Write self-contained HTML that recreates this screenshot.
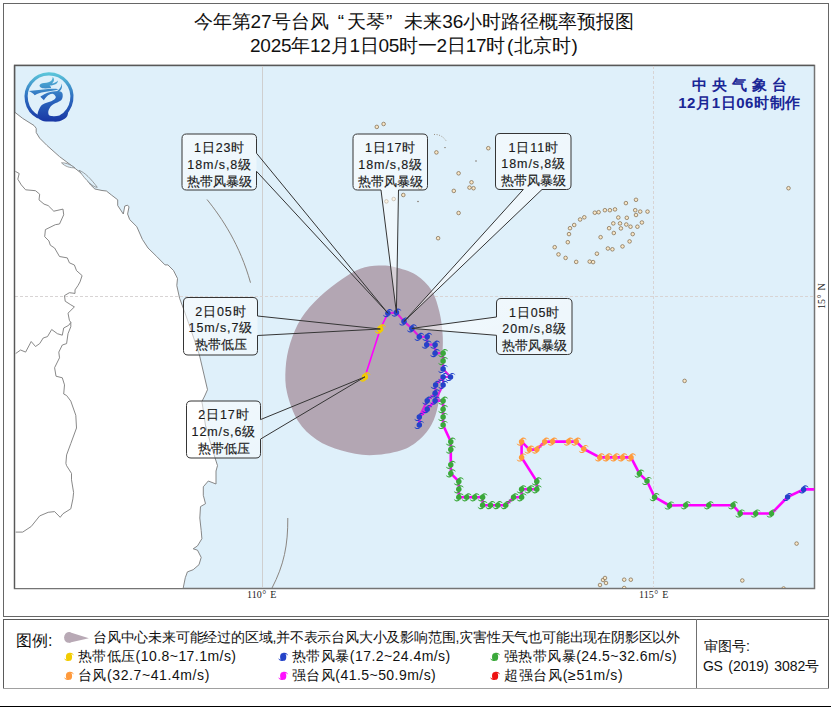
<!DOCTYPE html><html><head><meta charset="utf-8"><style>
html,body{margin:0;padding:0;background:#fff;width:831px;height:707px;overflow:hidden;position:relative}
text{font-family:"Liberation Sans",sans-serif}
.lb{font-size:12.5px;fill:#1a1a1a;stroke:#1a1a1a;stroke-width:0.15px}
.gl{font-family:"Liberation Serif",serif;font-size:10px;fill:#222}
.cma{font-size:15px;font-weight:bold;fill:#1a2696}
.t1{font-size:19px;fill:#111}
.lg1{font-size:16px;fill:#111}
.lg{font-size:14px;fill:#111}
</style></head><body><svg width="831" height="707" viewBox="0 0 831 707" style="position:absolute;left:0;top:0">
<defs>
<symbol id="ty" overflow="visible"><circle r="2.75"/><path d="M-1.2,-2.5 C0.8,-4.9 4.2,-4.7 5,-1.4 C3.8,-2.9 1.8,-3.4 0.6,-2.4 Z"/><path d="M1.2,2.5 C-0.8,4.9 -4.2,4.7 -5,1.4 C-3.8,2.9 -1.8,3.4 -0.6,2.4 Z"/></symbol>
<linearGradient id="lg" gradientUnits="userSpaceOnUse" x1="0" y1="73" x2="0" y2="122"><stop offset="0" stop-color="#5cc6da"/><stop offset="0.5" stop-color="#2d6cc0"/><stop offset="1" stop-color="#1836a4"/></linearGradient>
<linearGradient id="bx" x1="0" y1="0" x2="1" y2="1"><stop offset="0" stop-color="#ffffff" stop-opacity="0.6"/><stop offset="1" stop-color="#ffffff" stop-opacity="0.4"/></linearGradient>
<clipPath id="mc"><rect x="15" y="66" width="799" height="522"/></clipPath>
<symbol id="tyl" overflow="visible"><ellipse rx="3.1" ry="3.9"/><path d="M-0.5,-3.8 C2,-4.8 4.3,-3.6 5,-1.2 C4,-2.5 2.6,-3 1.2,-2.9 Z"/><path d="M0.5,3.8 C-2,4.8 -4.3,3.6 -5,1.2 C-4,2.5 -2.6,3 -1.2,2.9 Z"/></symbol>
</defs>
<rect x="3.5" y="3.5" width="825" height="613" fill="#fff" stroke="#666666" stroke-width="1"/>
<rect x="14.5" y="65.5" width="800" height="523" fill="#dff0fa" stroke="#747474" stroke-width="1.5"/>
<g clip-path="url(#mc)">
<polygon points="15.0,112.4 22.7,118.4 34.0,125.5 36.2,128.3 36.2,132.5 39.7,138.2 46.8,145.3 59.5,156.6 70.8,165.0 83.5,175.0 90.6,184.9 94.9,189.0 102.0,190.5 106.4,191.0 111.3,194.9 117.7,199.8 117.7,205.5 123.3,214.0 124.8,206.0 127.6,205.2 129.0,206.9 127.6,214.0 129.7,219.6 136.8,226.7 142.4,239.4 148.0,248.0 156.6,256.4 165.0,264.9 167.9,264.9 173.5,270.5 177.5,278.5 176.8,285.6 179.6,298.3 183.8,309.6 188.8,323.7 193.7,337.9 199.4,354.9 207.5,389.7 204.7,396.0 201.8,401.7 202.5,405.0 205.4,425.0 211.0,444.9 215.4,459.0 217.5,465.6 216.0,471.0 216.0,484.0 208.3,481.0 203.3,486.8 203.3,495.3 205.5,503.7 200.5,506.6 199.8,518.0 201.2,530.6 201.9,538.7 197.5,545.9 193.2,548.8 197.5,550.2 201.2,557.4 199.0,564.7 193.2,569.7 187.4,571.9 185.3,577.7 183.1,588.5 15,588.5" fill="#ffffff" stroke="none"/>
<polyline points="15.0,112.4 22.7,118.4 34.0,125.5 36.2,128.3 36.2,132.5 39.7,138.2 46.8,145.3 59.5,156.6 70.8,165.0 83.5,175.0 90.6,184.9 94.9,189.0 102.0,190.5 106.4,191.0 111.3,194.9 117.7,199.8 117.7,205.5 123.3,214.0 124.8,206.0 127.6,205.2 129.0,206.9 127.6,214.0 129.7,219.6 136.8,226.7 142.4,239.4 148.0,248.0 156.6,256.4 165.0,264.9 167.9,264.9 173.5,270.5 177.5,278.5 176.8,285.6 179.6,298.3 183.8,309.6 188.8,323.7 193.7,337.9 199.4,354.9 207.5,389.7 204.7,396.0 201.8,401.7 202.5,405.0 205.4,425.0 211.0,444.9 215.4,459.0 217.5,465.6 216.0,471.0 216.0,484.0 208.3,481.0 203.3,486.8 203.3,495.3 205.5,503.7 200.5,506.6 199.8,518.0 201.2,530.6 201.9,538.7 197.5,545.9 193.2,548.8 197.5,550.2 201.2,557.4 199.0,564.7 193.2,569.7 187.4,571.9 185.3,577.7 183.1,588.5" fill="none" stroke="#7a7a7a" stroke-width="0.9"/>
<polyline points="15.4,171.4 19.2,173.5 17.8,179.2 21.3,184.9 25.6,189.8 35.5,190.7 39.7,194.2 39.0,199.9 44.0,204.1 48.2,205.6 53.8,211.2 63.0,209.1 63.7,214.8 59.5,224.0 55.3,224.7 45.4,229.6 44.7,236.7 48.9,240.9 50.3,245.2 54.6,248.0 59.5,256.5 67.3,257.9 69.4,262.8 74.4,265.0 76.5,270.6 82.1,275.6 80.0,281.9 77.9,285.7 75.0,289.9 75.0,293.4 69.4,292.7 64.5,295.6 65.2,301.2 70.8,304.8 74.4,306.9 68.0,313.2 69.4,320.3 70.8,322.4 70.8,326.7 68.0,333.7 66.6,343.6 62.3,345.0 58.8,352.1 59.5,357.8 54.6,367.7 56.0,376.2 62.3,377.8 64.5,384.9 63.7,394.0 66.6,395.5 70.8,401.1 75.8,415.3 76.5,428.0 70.8,443.5 66.6,454.9 65.9,463.4 66.6,465.7 71.5,473.4 71.5,479.8 73.6,492.5 72.9,498.9 70.8,508.8 63.0,513.7 60.2,517.3 54.6,511.6 48.2,512.3 39.7,515.9 31.2,526.5 22.7,532.1 15.7,532.1" fill="none" stroke="#7a7a7a" stroke-width="0.9"/>
<polyline points="70.8,322.4 68.7,325.3 63.7,328.0 62.3,335.2 57.4,333.7 51.7,329.5 47.5,336.6 43.2,338.0 39.7,343.6 35.5,346.5 31.2,341.5 25.6,352.1 20.6,350.0 15.7,353.5" fill="none" stroke="#7a7a7a" stroke-width="0.9"/>
<path d="M61.5,162.8 C65,162.5 71,164.5 74.8,167.8 C70,168 65,166.5 61.5,162.8Z" fill="#dff0fa" stroke="#7a7a7a" stroke-width="0.7"/>
<path d="M79,170.3 C85,172.5 91,179 97.3,187.3 C94,187.8 86,181 79,170.3Z" fill="#dff0fa" stroke="#7a7a7a" stroke-width="0.7"/>
<line x1="262.5" y1="66" x2="262.5" y2="588" stroke="#cfcfcf" stroke-width="1"/>
<line x1="653.5" y1="66" x2="653.5" y2="588" stroke="#d8d4d4" stroke-width="1" stroke-dasharray="3,2"/>
<line x1="15" y1="296.5" x2="814" y2="296.5" stroke="#d8d4d4" stroke-width="1" stroke-dasharray="3,2"/>
<path d="M207,199.5 C222,218 240,245 250.5,282.7" fill="none" stroke="#8a8580" stroke-width="1"/>
<path d="M287.8,518 C288,545 284,565 272,588" fill="none" stroke="#8a8580" stroke-width="1"/>
<circle cx="376.8" cy="126.9" r="1.8" fill="#f8e6c6" stroke="#7a6448" stroke-width="0.7"/>
<circle cx="383.6" cy="124.0" r="1.8" fill="#f8e6c6" stroke="#7a6448" stroke-width="0.7"/>
<circle cx="436.4" cy="152.4" r="1.8" fill="#f8e6c6" stroke="#7a6448" stroke-width="0.7"/>
<circle cx="453.8" cy="190.9" r="1.8" fill="#f8e6c6" stroke="#7a6448" stroke-width="0.7"/>
<circle cx="403.3" cy="195.0" r="1.8" fill="#f8e6c6" stroke="#7a6448" stroke-width="0.7"/>
<circle cx="393.7" cy="199.0" r="1.8" fill="#f8e6c6" stroke="#7a6448" stroke-width="0.7"/>
<circle cx="386.4" cy="201.4" r="1.8" fill="#f8e6c6" stroke="#7a6448" stroke-width="0.7"/>
<circle cx="438.1" cy="238.2" r="1.8" fill="#f8e6c6" stroke="#7a6448" stroke-width="0.7"/>
<circle cx="420.0" cy="187.7" r="1.8" fill="#f8e6c6" stroke="#7a6448" stroke-width="0.7"/>
<circle cx="458.6" cy="213.0" r="1.8" fill="#f8e6c6" stroke="#7a6448" stroke-width="0.7"/>
<circle cx="458.6" cy="173.3" r="1.8" fill="#f8e6c6" stroke="#7a6448" stroke-width="0.7"/>
<circle cx="488.3" cy="148.2" r="1.8" fill="#f8e6c6" stroke="#7a6448" stroke-width="0.7"/>
<circle cx="471.5" cy="182.3" r="1.8" fill="#f8e6c6" stroke="#7a6448" stroke-width="0.7"/>
<circle cx="469.5" cy="187.6" r="1.8" fill="#f8e6c6" stroke="#7a6448" stroke-width="0.7"/>
<circle cx="473.5" cy="188.2" r="1.8" fill="#f8e6c6" stroke="#7a6448" stroke-width="0.7"/>
<circle cx="554.7" cy="247.2" r="1.8" fill="#f8e6c6" stroke="#7a6448" stroke-width="0.7"/>
<circle cx="636.0" cy="199.8" r="1.8" fill="#f8e6c6" stroke="#7a6448" stroke-width="0.7"/>
<circle cx="625.9" cy="203.1" r="1.8" fill="#f8e6c6" stroke="#7a6448" stroke-width="0.7"/>
<circle cx="635.2" cy="210.2" r="1.8" fill="#f8e6c6" stroke="#7a6448" stroke-width="0.7"/>
<circle cx="640.2" cy="211.6" r="1.8" fill="#f8e6c6" stroke="#7a6448" stroke-width="0.7"/>
<circle cx="647.5" cy="211.6" r="1.8" fill="#f8e6c6" stroke="#7a6448" stroke-width="0.7"/>
<circle cx="636.0" cy="215.0" r="1.8" fill="#f8e6c6" stroke="#7a6448" stroke-width="0.7"/>
<circle cx="615.0" cy="209.4" r="1.8" fill="#f8e6c6" stroke="#7a6448" stroke-width="0.7"/>
<circle cx="609.9" cy="210.2" r="1.8" fill="#f8e6c6" stroke="#7a6448" stroke-width="0.7"/>
<circle cx="604.9" cy="210.2" r="1.8" fill="#f8e6c6" stroke="#7a6448" stroke-width="0.7"/>
<circle cx="598.6" cy="212.2" r="1.8" fill="#f8e6c6" stroke="#7a6448" stroke-width="0.7"/>
<circle cx="594.8" cy="212.7" r="1.8" fill="#f8e6c6" stroke="#7a6448" stroke-width="0.7"/>
<circle cx="584.3" cy="217.3" r="1.8" fill="#f8e6c6" stroke="#7a6448" stroke-width="0.7"/>
<circle cx="580.1" cy="219.5" r="1.8" fill="#f8e6c6" stroke="#7a6448" stroke-width="0.7"/>
<circle cx="574.2" cy="225.0" r="1.8" fill="#f8e6c6" stroke="#7a6448" stroke-width="0.7"/>
<circle cx="570.0" cy="228.2" r="1.8" fill="#f8e6c6" stroke="#7a6448" stroke-width="0.7"/>
<circle cx="569.0" cy="234.1" r="1.8" fill="#f8e6c6" stroke="#7a6448" stroke-width="0.7"/>
<circle cx="567.8" cy="242.2" r="1.8" fill="#f8e6c6" stroke="#7a6448" stroke-width="0.7"/>
<circle cx="558.5" cy="254.4" r="1.8" fill="#f8e6c6" stroke="#7a6448" stroke-width="0.7"/>
<circle cx="565.6" cy="257.9" r="1.8" fill="#f8e6c6" stroke="#7a6448" stroke-width="0.7"/>
<circle cx="576.2" cy="261.9" r="1.8" fill="#f8e6c6" stroke="#7a6448" stroke-width="0.7"/>
<circle cx="589.7" cy="261.6" r="1.8" fill="#f8e6c6" stroke="#7a6448" stroke-width="0.7"/>
<circle cx="593.1" cy="262.1" r="1.8" fill="#f8e6c6" stroke="#7a6448" stroke-width="0.7"/>
<circle cx="596.9" cy="253.7" r="1.8" fill="#f8e6c6" stroke="#7a6448" stroke-width="0.7"/>
<circle cx="600.6" cy="237.2" r="1.8" fill="#f8e6c6" stroke="#7a6448" stroke-width="0.7"/>
<circle cx="607.9" cy="248.5" r="1.8" fill="#f8e6c6" stroke="#7a6448" stroke-width="0.7"/>
<circle cx="612.4" cy="249.3" r="1.8" fill="#f8e6c6" stroke="#7a6448" stroke-width="0.7"/>
<circle cx="622.5" cy="246.4" r="1.8" fill="#f8e6c6" stroke="#7a6448" stroke-width="0.7"/>
<circle cx="629.6" cy="241.4" r="1.8" fill="#f8e6c6" stroke="#7a6448" stroke-width="0.7"/>
<circle cx="632.7" cy="234.1" r="1.8" fill="#f8e6c6" stroke="#7a6448" stroke-width="0.7"/>
<circle cx="637.4" cy="226.7" r="1.8" fill="#f8e6c6" stroke="#7a6448" stroke-width="0.7"/>
<circle cx="641.9" cy="222.5" r="1.8" fill="#f8e6c6" stroke="#7a6448" stroke-width="0.7"/>
<circle cx="618.3" cy="217.5" r="1.8" fill="#f8e6c6" stroke="#7a6448" stroke-width="0.7"/>
<circle cx="626.8" cy="217.8" r="1.8" fill="#f8e6c6" stroke="#7a6448" stroke-width="0.7"/>
<circle cx="613.3" cy="223.4" r="1.8" fill="#f8e6c6" stroke="#7a6448" stroke-width="0.7"/>
<circle cx="620.0" cy="223.4" r="1.8" fill="#f8e6c6" stroke="#7a6448" stroke-width="0.7"/>
<circle cx="626.3" cy="224.5" r="1.8" fill="#f8e6c6" stroke="#7a6448" stroke-width="0.7"/>
<circle cx="630.5" cy="226.7" r="1.8" fill="#f8e6c6" stroke="#7a6448" stroke-width="0.7"/>
<circle cx="609.1" cy="228.2" r="1.8" fill="#f8e6c6" stroke="#7a6448" stroke-width="0.7"/>
<circle cx="620.9" cy="228.4" r="1.8" fill="#f8e6c6" stroke="#7a6448" stroke-width="0.7"/>
<circle cx="613.8" cy="233.0" r="1.8" fill="#f8e6c6" stroke="#7a6448" stroke-width="0.7"/>
<circle cx="788.5" cy="188.2" r="1.8" fill="#f8e6c6" stroke="#7a6448" stroke-width="0.7"/>
<circle cx="684.6" cy="380.9" r="1.8" fill="#f8e6c6" stroke="#7a6448" stroke-width="0.7"/>
<circle cx="796.6" cy="543.6" r="1.8" fill="#f8e6c6" stroke="#7a6448" stroke-width="0.7"/>
<circle cx="742.3" cy="580.5" r="1.8" fill="#f8e6c6" stroke="#7a6448" stroke-width="0.7"/>
<circle cx="624.2" cy="579.7" r="1.8" fill="#f8e6c6" stroke="#7a6448" stroke-width="0.7"/>
<circle cx="630.8" cy="579.7" r="1.8" fill="#f8e6c6" stroke="#7a6448" stroke-width="0.7"/>
<circle cx="603.0" cy="580.0" r="1.8" fill="#f8e6c6" stroke="#7a6448" stroke-width="0.7"/>
<circle cx="606.0" cy="583.0" r="1.8" fill="#f8e6c6" stroke="#7a6448" stroke-width="0.7"/>
<circle cx="600.0" cy="585.0" r="1.8" fill="#f8e6c6" stroke="#7a6448" stroke-width="0.7"/>
<circle cx="605.0" cy="578.0" r="1.8" fill="#f8e6c6" stroke="#7a6448" stroke-width="0.7"/>
<circle cx="624.2" cy="588.0" r="1.8" fill="#f8e6c6" stroke="#7a6448" stroke-width="0.7"/>
<circle cx="783.6" cy="588.5" r="1.8" fill="#f8e6c6" stroke="#7a6448" stroke-width="0.7"/>
<path d="M434,134.5 C439,134 444,137 446.5,141.5" fill="none" stroke="#8a7a66" stroke-width="0.8" stroke-dasharray="1,1.6"/>
<circle cx="445" cy="147.6" r="0.7" fill="#6a5a4a"/>
<circle cx="476" cy="161" r="0.7" fill="#6a5a4a"/>
<circle cx="418" cy="201.5" r="0.7" fill="#6a5a4a"/>
<path d="M378.9,265.6 C384.6,265.3 388.2,265.6 394.4,267.1 C400.6,268.7 410.0,271.0 416.2,274.9 C422.4,278.8 427.8,284.2 431.7,290.4 C435.6,296.6 437.7,304.9 439.5,312.2 C441.3,319.5 442.1,327.3 442.6,334.0 C443.1,340.7 442.9,344.8 442.6,352.6 C442.3,360.4 441.8,371.8 441.0,380.6 C440.2,389.4 439.6,398.2 438.0,405.5 C436.4,412.8 434.8,418.5 431.7,424.2 C428.6,429.9 424.5,435.3 419.3,439.7 C414.1,444.1 408.9,448.0 400.6,450.6 C392.3,453.2 379.4,455.3 369.5,455.3 C359.6,455.3 350.3,453.2 341.5,450.6 C332.7,448.0 323.9,444.6 316.7,439.7 C309.4,434.8 302.9,428.8 298.0,421.0 C293.1,413.2 289.2,401.8 287.1,393.0 C285.0,384.2 285.1,376.5 285.6,368.2 C286.1,359.9 287.6,351.6 290.2,343.3 C292.8,335.0 296.2,326.2 301.1,318.4 C306.0,310.6 313.1,303.2 319.8,296.7 C326.5,290.2 334.8,284.2 341.5,279.5 C348.2,274.8 354.0,271.0 360.2,268.7 C366.4,266.4 373.2,265.9 378.9,265.6Z" fill="#b3a6b3"/>
</g>
<path d="M14.6,588.5 L14.6,65.4 L814.5,65.4" fill="none" stroke="#585858" stroke-width="1.25"/>
<polyline points="814.3,489.4 803.6,489.4 787.6,497.0 771.5,513.5 755.7,513.5 740.2,513.5 733.0,505.3 708.8,505.3 685.7,505.3 669.5,505.5 654.6,497.2 647.0,481.0 639.4,473.6 631.0,457.4 622.5,457.4 615.0,457.4 607.4,457.4 599.8,457.4 583.8,449.0 576.2,441.6 568.6,441.6 552.6,441.6 544.7,441.7 536.8,449.6 529.5,449.6 521.6,441.7 521.6,457.5 536.8,481.4 536.8,489.3 529.5,489.3 521.6,489.3 521.6,497.3 513.6,497.3 505.7,505.2 497.8,505.2 490.5,505.2 482.6,505.2 482.6,497.3 474.7,497.3 466.7,497.3 458.8,497.3 458.8,489.3 458.8,481.4 450.8,473.4 450.8,464.8 450.8,449.6 450.8,441.7 443.1,425.0 443.1,417.0 443.1,409.2 443.1,400.7 435.1,400.7 427.2,409.2 419.3,417.0 419.3,425.0" fill="none" stroke="#ff00ff" stroke-width="2.6" stroke-linejoin="round"/>
<polyline points="419.3,425.0 419.3,417.0 427.2,400.7 435.1,393.3 435.6,384.9 443.1,377.0 450.5,377.0 443.1,369.0 443.1,361.1 443.1,353.2 435.1,353.2 435.1,344.7 426.7,344.7 427.2,336.8 419.3,336.8 411.9,328.4 404.0,321.5 396.4,312.6 387.9,313.2" fill="none" stroke="#e020e0" stroke-width="2.2" stroke-linejoin="round"/>
<polyline points="443.1,400.7 435.1,400.7 443.1,384.9 443.1,377.0" fill="none" stroke="#e020e0" stroke-width="2.2" stroke-linejoin="round"/>
<polyline points="387.9,313.2 380.3,329.0 364.9,376.9" fill="none" stroke="#ff00ff" stroke-width="1.6"/>
<use href="#ty" x="0" y="0" transform="translate(803.6,489.4) scale(1.0)" fill="#2443c8"/>
<use href="#ty" x="0" y="0" transform="translate(787.6,497.0) scale(1.0)" fill="#2443c8"/>
<use href="#ty" x="0" y="0" transform="translate(771.5,513.5) scale(1.0)" fill="#3aa83a"/>
<use href="#ty" x="0" y="0" transform="translate(755.7,513.5) scale(1.0)" fill="#3aa83a"/>
<use href="#ty" x="0" y="0" transform="translate(740.2,513.5) scale(1.0)" fill="#3aa83a"/>
<use href="#ty" x="0" y="0" transform="translate(733.0,505.3) scale(1.0)" fill="#3aa83a"/>
<use href="#ty" x="0" y="0" transform="translate(708.8,505.3) scale(1.0)" fill="#3aa83a"/>
<use href="#ty" x="0" y="0" transform="translate(685.7,505.3) scale(1.0)" fill="#3aa83a"/>
<use href="#ty" x="0" y="0" transform="translate(669.5,505.5) scale(1.0)" fill="#3aa83a"/>
<use href="#ty" x="0" y="0" transform="translate(654.6,497.2) scale(1.0)" fill="#3aa83a"/>
<use href="#ty" x="0" y="0" transform="translate(647.0,481.0) scale(1.0)" fill="#3aa83a"/>
<use href="#ty" x="0" y="0" transform="translate(639.4,473.6) scale(1.0)" fill="#3aa83a"/>
<use href="#ty" x="0" y="0" transform="translate(631.0,457.4) scale(1.0)" fill="#ff9a3c"/>
<use href="#ty" x="0" y="0" transform="translate(622.5,457.4) scale(1.0)" fill="#ff9a3c"/>
<use href="#ty" x="0" y="0" transform="translate(615.0,457.4) scale(1.0)" fill="#ff9a3c"/>
<use href="#ty" x="0" y="0" transform="translate(607.4,457.4) scale(1.0)" fill="#ff9a3c"/>
<use href="#ty" x="0" y="0" transform="translate(599.8,457.4) scale(1.0)" fill="#ff9a3c"/>
<use href="#ty" x="0" y="0" transform="translate(583.8,449.0) scale(1.0)" fill="#ff9a3c"/>
<use href="#ty" x="0" y="0" transform="translate(576.2,441.6) scale(1.0)" fill="#ff9a3c"/>
<use href="#ty" x="0" y="0" transform="translate(568.6,441.6) scale(1.0)" fill="#ff9a3c"/>
<use href="#ty" x="0" y="0" transform="translate(552.6,441.6) scale(1.0)" fill="#ff9a3c"/>
<use href="#ty" x="0" y="0" transform="translate(544.7,441.7) scale(1.0)" fill="#ff9a3c"/>
<use href="#ty" x="0" y="0" transform="translate(536.8,449.6) scale(1.0)" fill="#ff9a3c"/>
<use href="#ty" x="0" y="0" transform="translate(529.5,449.6) scale(1.0)" fill="#ff9a3c"/>
<use href="#ty" x="0" y="0" transform="translate(521.6,441.7) scale(1.0)" fill="#ff9a3c"/>
<use href="#ty" x="0" y="0" transform="translate(521.6,457.5) scale(1.0)" fill="#ff9a3c"/>
<use href="#ty" x="0" y="0" transform="translate(536.8,481.4) scale(1.0)" fill="#3aa83a"/>
<use href="#ty" x="0" y="0" transform="translate(536.8,489.3) scale(1.0)" fill="#3aa83a"/>
<use href="#ty" x="0" y="0" transform="translate(529.5,489.3) scale(1.0)" fill="#3aa83a"/>
<use href="#ty" x="0" y="0" transform="translate(521.6,489.3) scale(1.0)" fill="#3aa83a"/>
<use href="#ty" x="0" y="0" transform="translate(521.6,497.3) scale(1.0)" fill="#3aa83a"/>
<use href="#ty" x="0" y="0" transform="translate(513.6,497.3) scale(1.0)" fill="#3aa83a"/>
<use href="#ty" x="0" y="0" transform="translate(505.7,505.2) scale(1.0)" fill="#3aa83a"/>
<use href="#ty" x="0" y="0" transform="translate(497.8,505.2) scale(1.0)" fill="#3aa83a"/>
<use href="#ty" x="0" y="0" transform="translate(490.5,505.2) scale(1.0)" fill="#3aa83a"/>
<use href="#ty" x="0" y="0" transform="translate(482.6,505.2) scale(1.0)" fill="#3aa83a"/>
<use href="#ty" x="0" y="0" transform="translate(482.6,497.3) scale(1.0)" fill="#3aa83a"/>
<use href="#ty" x="0" y="0" transform="translate(474.7,497.3) scale(1.0)" fill="#3aa83a"/>
<use href="#ty" x="0" y="0" transform="translate(466.7,497.3) scale(1.0)" fill="#3aa83a"/>
<use href="#ty" x="0" y="0" transform="translate(458.8,497.3) scale(1.0)" fill="#3aa83a"/>
<use href="#ty" x="0" y="0" transform="translate(458.8,489.3) scale(1.0)" fill="#3aa83a"/>
<use href="#ty" x="0" y="0" transform="translate(458.8,481.4) scale(1.0)" fill="#3aa83a"/>
<use href="#ty" x="0" y="0" transform="translate(450.8,473.4) scale(1.0)" fill="#3aa83a"/>
<use href="#ty" x="0" y="0" transform="translate(450.8,464.8) scale(1.0)" fill="#3aa83a"/>
<use href="#ty" x="0" y="0" transform="translate(450.8,449.6) scale(1.0)" fill="#3aa83a"/>
<use href="#ty" x="0" y="0" transform="translate(450.8,441.7) scale(1.0)" fill="#3aa83a"/>
<use href="#ty" x="0" y="0" transform="translate(443.1,425.0) scale(1.0)" fill="#3aa83a"/>
<use href="#ty" x="0" y="0" transform="translate(443.1,417.0) scale(1.0)" fill="#3aa83a"/>
<use href="#ty" x="0" y="0" transform="translate(443.1,409.2) scale(1.0)" fill="#3aa83a"/>
<use href="#ty" x="0" y="0" transform="translate(443.1,400.7) scale(1.0)" fill="#3aa83a"/>
<use href="#ty" x="0" y="0" transform="translate(435.1,400.7) scale(1.0)" fill="#2443c8"/>
<use href="#ty" x="0" y="0" transform="translate(427.2,409.2) scale(1.0)" fill="#2443c8"/>
<use href="#ty" x="0" y="0" transform="translate(419.3,417.0) scale(1.0)" fill="#2443c8"/>
<use href="#ty" x="0" y="0" transform="translate(419.3,425.0) scale(1.0)" fill="#2443c8"/>
<use href="#ty" x="0" y="0" transform="translate(427.2,400.7) scale(1.0)" fill="#2443c8"/>
<use href="#ty" x="0" y="0" transform="translate(435.1,393.3) scale(1.0)" fill="#2443c8"/>
<use href="#ty" x="0" y="0" transform="translate(435.6,384.9) scale(1.0)" fill="#2443c8"/>
<use href="#ty" x="0" y="0" transform="translate(443.1,377.0) scale(1.0)" fill="#2443c8"/>
<use href="#ty" x="0" y="0" transform="translate(450.5,377.0) scale(1.0)" fill="#2443c8"/>
<use href="#ty" x="0" y="0" transform="translate(443.1,369.0) scale(1.0)" fill="#2443c8"/>
<use href="#ty" x="0" y="0" transform="translate(443.1,361.1) scale(1.0)" fill="#3aa83a"/>
<use href="#ty" x="0" y="0" transform="translate(443.1,353.2) scale(1.0)" fill="#3aa83a"/>
<use href="#ty" x="0" y="0" transform="translate(435.1,353.2) scale(1.0)" fill="#2443c8"/>
<use href="#ty" x="0" y="0" transform="translate(435.1,344.7) scale(1.0)" fill="#2443c8"/>
<use href="#ty" x="0" y="0" transform="translate(426.7,344.7) scale(1.0)" fill="#2443c8"/>
<use href="#ty" x="0" y="0" transform="translate(427.2,336.8) scale(1.0)" fill="#2443c8"/>
<use href="#ty" x="0" y="0" transform="translate(419.3,336.8) scale(1.0)" fill="#2443c8"/>
<use href="#ty" x="0" y="0" transform="translate(411.9,328.4) scale(1.0)" fill="#2443c8"/>
<use href="#ty" x="0" y="0" transform="translate(404.0,321.5) scale(1.0)" fill="#2443c8"/>
<use href="#ty" x="0" y="0" transform="translate(396.4,312.6) scale(1.0)" fill="#2443c8"/>
<use href="#ty" x="0" y="0" transform="translate(387.9,313.2) scale(1.0)" fill="#2443c8"/>
<use href="#ty" x="0" y="0" transform="translate(443.1,384.9) scale(1.0)" fill="#2443c8"/>
<use href="#ty" x="0" y="0" transform="translate(380.3,329.0) scale(1.15)" fill="#f2cc00"/>
<use href="#ty" x="0" y="0" transform="translate(364.9,376.9) scale(1.15)" fill="#f2cc00"/>
<rect x="182" y="134" width="74.5" height="56" rx="4.5" fill="url(#bx)"/>
<path d="M186.5,134 L252.0,134 Q256.5,134 256.5,138.5 L256.5,153.2 L387.9,313.2 L256.5,171.3 L256.5,185.5 Q256.5,190 252.0,190 L186.5,190 Q182,190 182,185.5 L182,138.5 Q182,134 186.5,134 Z" fill="none" stroke="#353535" stroke-width="1" stroke-linejoin="miter"/>
<text x="219.7" y="152.0" class="lb" text-anchor="middle" letter-spacing="0.9">1日23时</text>
<text x="219.7" y="168.8" class="lb" text-anchor="middle" letter-spacing="0.9">18m/s,8级</text>
<text x="219.2" y="185.5" class="lb" text-anchor="middle">热带风暴级</text>
<path d="M357.5,134 L423.0,134 Q427.5,134 427.5,138.5 L427.5,185.5 Q427.5,190 423.0,190 L398.5,190 L396.4,312.6 L381,190 L357.5,190 Q353,190 353,185.5 L353,138.5 Q353,134 357.5,134 Z" fill="url(#bx)" stroke="#353535" stroke-width="1" stroke-linejoin="miter"/>
<text x="390.7" y="152.0" class="lb" text-anchor="middle" letter-spacing="0.9">1日17时</text>
<text x="390.7" y="168.8" class="lb" text-anchor="middle" letter-spacing="0.9">18m/s,8级</text>
<text x="390.2" y="185.5" class="lb" text-anchor="middle">热带风暴级</text>
<path d="M500.0,133.5 L566.5,133.5 Q571,133.5 571,138.0 L571,185.0 Q571,189.5 566.5,189.5 L542,189.5 L404,321.5 L523.3,189.5 L500.0,189.5 Q495.5,189.5 495.5,185.0 L495.5,138.0 Q495.5,133.5 500.0,133.5 Z" fill="url(#bx)" stroke="#353535" stroke-width="1" stroke-linejoin="miter"/>
<text x="533.7" y="151.5" class="lb" text-anchor="middle" letter-spacing="0.9">1日11时</text>
<text x="533.7" y="168.2" class="lb" text-anchor="middle" letter-spacing="0.9">18m/s,8级</text>
<text x="533.2" y="185.0" class="lb" text-anchor="middle">热带风暴级</text>
<path d="M501.0,298.5 L567.5,298.5 Q572,298.5 572,303.0 L572,350.0 Q572,354.5 567.5,354.5 L501.0,354.5 Q496.5,354.5 496.5,350.0 L496.5,335.3 L411.9,328.4 L496.5,317 L496.5,303.0 Q496.5,298.5 501.0,298.5 Z" fill="url(#bx)" stroke="#353535" stroke-width="1" stroke-linejoin="miter"/>
<text x="534.7" y="316.5" class="lb" text-anchor="middle" letter-spacing="0.9">1日05时</text>
<text x="534.7" y="333.2" class="lb" text-anchor="middle" letter-spacing="0.9">20m/s,8级</text>
<text x="534.2" y="350.0" class="lb" text-anchor="middle">热带风暴级</text>
<rect x="183.5" y="297.5" width="74.0" height="57.5" rx="4.5" fill="url(#bx)"/>
<path d="M188.0,297.5 L253.0,297.5 Q257.5,297.5 257.5,302.0 L257.5,316 L380.3,329 L257.5,335.5 L257.5,350.5 Q257.5,355 253.0,355 L188.0,355 Q183.5,355 183.5,350.5 L183.5,302.0 Q183.5,297.5 188.0,297.5 Z" fill="none" stroke="#353535" stroke-width="1" stroke-linejoin="miter"/>
<text x="220.9" y="315.5" class="lb" text-anchor="middle" letter-spacing="0.9">2日05时</text>
<text x="220.9" y="332.2" class="lb" text-anchor="middle" letter-spacing="0.9">15m/s,7级</text>
<text x="220.5" y="349.0" class="lb" text-anchor="middle">热带低压</text>
<rect x="186.5" y="401" width="74.0" height="57" rx="4.5" fill="url(#bx)"/>
<path d="M191.0,401 L256.0,401 Q260.5,401 260.5,405.5 L260.5,419.6 L364.9,376.9 L260.5,439.1 L260.5,453.5 Q260.5,458 256.0,458 L191.0,458 Q186.5,458 186.5,453.5 L186.5,405.5 Q186.5,401 191.0,401 Z" fill="none" stroke="#353535" stroke-width="1" stroke-linejoin="miter"/>
<text x="223.9" y="419.0" class="lb" text-anchor="middle" letter-spacing="0.9">2日17时</text>
<text x="223.9" y="435.8" class="lb" text-anchor="middle" letter-spacing="0.9">12m/s,6级</text>
<text x="223.5" y="452.5" class="lb" text-anchor="middle">热带低压</text>
<g fill="url(#lg)">
<path d="M38.25,117 A22.9,22.9 0 1 1 60.45,116.63" fill="none" stroke="url(#lg)" stroke-width="3.2"/>
<path d="M35,114.8 A22.9,22.9 0 0 0 40.5,118.8" fill="none" stroke="url(#lg)" stroke-width="1.3"/>
<path d="M39.5,85.6 C40,84 41.5,83.4 44,83.1 C47.5,82.8 50,82.2 51.5,80.5 C52.4,79.4 52.7,78.2 52.5,77.1 C53.6,77.6 54.2,79 53.9,80.6 C53.6,82 52.7,83 51.8,83.6 C54,83.2 56.3,82.2 57.8,80.5 C57.9,82 57.3,83.2 56,84 C54.5,84.9 52,85.4 49.5,85.6 C50.5,86.3 51.3,87.2 51,88 C48.5,88.4 45,88.5 42.5,88.3 C40.8,87.9 39.7,87 39.5,85.6 Z"/>
<path d="M28.9,91.1 C35,90.3 42,89.5 48,89 C52,88.6 55.5,88.6 58.5,89.2 C56,90.4 52,90.9 47.7,91.4 C43,92 39.5,92.7 37,93.9 C36,94.3 35.2,94.8 34.7,95.3 C33.5,93.9 31.5,92.2 28.9,91.1 Z"/>
<path d="M61.4,83.4 C62.3,85 62.2,87.5 61.2,89.3 C60.6,90.4 60,91 59.5,91.3 L56.5,91.5 C58.5,90.3 60,88.5 60.8,86.8 C61.3,85.7 61.5,84.5 61.4,83.4 Z"/>
<path d="M40.34,96.67 C41.26,96.14 43.77,94.36 45.88,93.50 C47.99,92.64 50.76,91.91 53.00,91.52 C55.24,91.12 57.83,90.93 59.35,91.13 C60.87,91.33 61.56,91.92 62.12,92.71 C62.68,93.50 62.78,94.76 62.71,95.88 C62.64,97.00 62.41,98.46 61.72,99.45 C61.03,100.44 60.00,100.96 58.55,101.82 C57.10,102.68 54.45,103.60 53.00,104.59 C51.55,105.58 50.63,106.53 49.84,107.76 C49.05,109.00 48.32,110.69 48.26,112.00 C48.20,113.31 48.48,114.90 49.50,115.60 C50.52,116.30 52.75,116.22 54.40,116.20 C56.05,116.18 57.72,116.03 59.40,115.50 C61.08,114.97 63.03,114.08 64.50,113.00 C65.97,111.92 67.58,109.67 68.20,109.00 L68.4,111.4 C68.07,112.38 67.90,115.65 66.40,117.30 C64.90,118.95 61.98,120.58 59.40,121.30 C56.82,122.02 53.50,121.62 50.90,121.60 C48.30,121.58 45.85,121.75 43.80,121.20 C41.75,120.65 39.63,119.55 38.60,118.30 C37.57,117.05 37.25,115.72 37.60,113.70 C37.95,111.68 39.35,107.96 40.73,106.18 C42.11,104.40 44.03,103.86 45.88,103.00 C47.73,102.14 50.23,101.82 51.82,101.03 C53.41,100.24 54.80,99.12 55.39,98.26 C55.98,97.40 55.79,96.61 55.39,95.88 C54.99,95.15 54.06,94.10 53.00,93.90 C51.94,93.70 50.24,94.09 49.05,94.69 C47.86,95.28 46.74,96.55 45.88,97.47 C45.02,98.39 44.23,99.78 43.90,100.24 Z"/>
</g>
<text x="247" y="598" class="gl">110<tspan dx="0.5">°</tspan><tspan dx="4">E</tspan></text>
<text x="639" y="598" class="gl">115<tspan dx="0.5">°</tspan><tspan dx="4">E</tspan></text>
<text transform="translate(824.5,309) rotate(-90)" class="gl">15<tspan dx="0.5">°</tspan><tspan dx="4">N</tspan></text>
<text x="742" y="90" class="cma" text-anchor="middle" letter-spacing="5.2">中央气象台</text>
<text x="739.5" y="108" class="cma" text-anchor="middle" letter-spacing="0.6">12月1日06时制作</text>
<text x="193.5" y="28" class="t1">今年第27号台风<tspan dx="9">“</tspan><tspan dx="3">天琴</tspan><tspan dx="1">”</tspan><tspan dx="12">未来36小时路径概率预报图</tspan></text>
<text x="250" y="52" class="t1" letter-spacing="-0.25">2025年12月1日05时一2日17时<tspan dx="2">(</tspan><tspan dx="1">北京时</tspan><tspan dx="1">)</tspan></text>
<rect x="3.5" y="619.5" width="825" height="69" fill="#fff" stroke="#5a5a5a" stroke-width="1"/>
<line x1="3" y1="688.5" x2="829" y2="688.5" stroke="#a0a0a0" stroke-width="1.2"/>
<line x1="696.5" y1="619" x2="696.5" y2="688" stroke="#707070" stroke-width="1"/>
<text x="16" y="645.5" class="lg1">图例:</text>
<path d="M69,632.1 L88.9,638.2 L69,642.7Z" fill="#b8a9b5"/><ellipse cx="68.7" cy="637.4" rx="4.6" ry="5.3" fill="#b8a9b5"/>
<text x="93" y="642" class="lg" letter-spacing="-0.2">台风中心未来可能经过的区域,并不表示台风大小及影响范围,灾害性天气也可能出现在阴影区以外</text>
<use href="#tyl" transform="translate(69.0,656.9)" fill="#f2cc00"/>
<text x="77.8" y="661.0" class="lg" letter-spacing="0.45">热带低压(10.8~17.1m/s)</text>
<use href="#tyl" transform="translate(283.2,656.9)" fill="#2443c8"/>
<text x="292.0" y="661.0" class="lg" letter-spacing="0.45">热带风暴(17.2~24.4m/s)</text>
<use href="#tyl" transform="translate(495.1,656.9)" fill="#3aa83a"/>
<text x="503.9" y="661.0" class="lg" letter-spacing="0.45">强热带风暴(24.5~32.6m/s)</text>
<use href="#tyl" transform="translate(69.0,675.9)" fill="#ff9a3c"/>
<text x="77.8" y="680.0" class="lg" letter-spacing="0.6">台风(32.7~41.4m/s)</text>
<use href="#tyl" transform="translate(283.2,675.9)" fill="#ff10ff"/>
<text x="292.0" y="680.0" class="lg" letter-spacing="0.45">强台风(41.5~50.9m/s)</text>
<use href="#tyl" transform="translate(495.1,675.9)" fill="#ee1111"/>
<text x="503.9" y="680.0" class="lg" letter-spacing="0.7">超强台风(≥51m/s)</text>
<text x="704" y="651" class="lg">审图号:</text>
<text x="703" y="671.3" class="lg">G<tspan dx="-0.5">S</tspan><tspan dx="5.5">(2019)</tspan><tspan dx="5.5">3082号</tspan></text>
<line x1="0" y1="706.5" x2="831" y2="706.5" stroke="#000" stroke-width="1"/>
</svg></body></html>
